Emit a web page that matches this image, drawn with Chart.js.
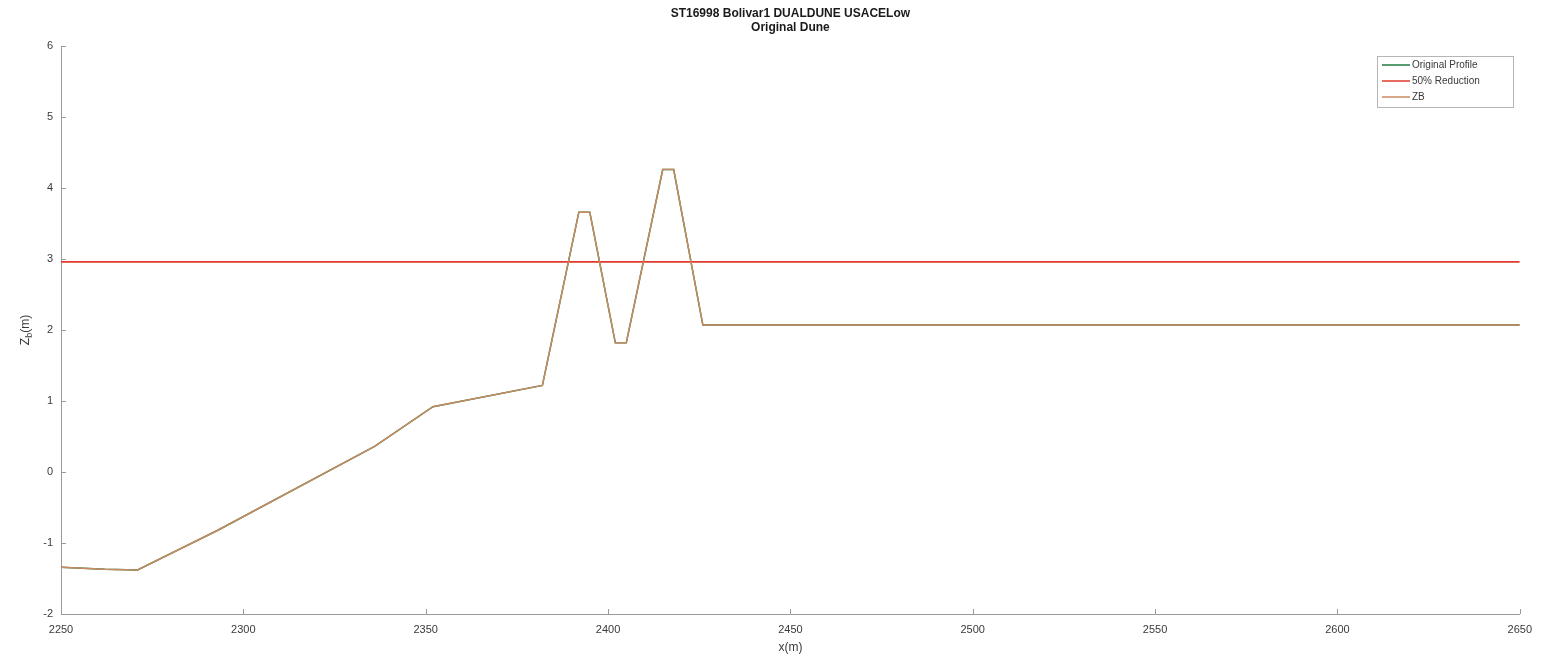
<!DOCTYPE html>
<html>
<head>
<meta charset="utf-8">
<title>ST16998 Bolivar1 DUALDUNE USACELow</title>
<script src="https://cdn.jsdelivr.net/npm/chart.js@4"></script>
<style>
  html, body { margin: 0; padding: 0; background: #fff; }
  #wrap { width: 1541px; height: 658px; position: relative; }
</style>
</head>
<body>
<div id="wrap"><canvas id="c" width="1541" height="658"></canvas></div>
<script>
// Cross-shore profile (x in metres, bed elevation Zb in metres)
const profileX = [2250, 2262, 2271, 2293, 2336, 2352, 2382, 2392, 2395, 2402, 2405, 2415, 2418, 2426, 2650];
const profileZ = [-1.34, -1.37, -1.38, -0.82, 0.36, 0.92, 1.22, 3.66, 3.66, 1.82, 1.82, 4.26, 4.26, 2.07, 2.07];
// ZB follows the original profile for this run
const zbX = profileX.slice();
const zbZ = profileZ.slice();
// 50% reduction elevation level
const reductionX = [2250, 2650];
const reductionZ = [2.96, 2.96];

const titleLines = ['ST16998 Bolivar1 DUALDUNE USACELow', 'Original Dune'];
const seriesNames = ['Original Profile', '50% Reduction', 'ZB'];
const xTicks = [2250, 2300, 2350, 2400, 2450, 2500, 2550, 2600, 2650];
const yTicks = [-2, -1, 0, 1, 2, 3, 4, 5, 6];

const COLORS = { original: '#1f7a3f', reduction: '#e2392b', zb: '#c98a62' };
const AXIS = '#9a9a9a';
const TEXT = '#3a3a3a';
const FONT = '"Liberation Sans", Arial, sans-serif';

const toPts = (xs, ys) => xs.map((x, i) => ({ x: x, y: ys[i] }));

const decor = {
  id: 'decor',
  afterDraw(chart) {
    const ctx = chart.ctx;
    const a = chart.chartArea;
    const xs = chart.scales.x, ys = chart.scales.y;
    ctx.save();
    // inward tick marks
    ctx.strokeStyle = AXIS;
    ctx.lineWidth = 1;
    ctx.beginPath();
    xTicks.forEach(v => {
      const px = Math.round(xs.getPixelForValue(v)) + 0.5;
      ctx.moveTo(px, a.bottom); ctx.lineTo(px, a.bottom - 5);
    });
    yTicks.forEach(v => {
      const py = Math.round(ys.getPixelForValue(v)) + 0.5;
      ctx.moveTo(a.left, py); ctx.lineTo(a.left + 5, py);
    });
    ctx.stroke();

    // title
    ctx.fillStyle = '#1a1a1a';
    ctx.font = 'bold 12px ' + FONT;
    ctx.textAlign = 'center';
    ctx.textBaseline = 'middle';
    const cx = (a.left + a.right) / 2;
    ctx.fillText(titleLines[0], cx, 14);
    ctx.fillText(titleLines[1], cx, 28);

    // x axis title
    ctx.fillStyle = TEXT;
    ctx.font = '12px ' + FONT;
    ctx.fillText('x(m)', cx, 648);

    // y axis title with subscript
    ctx.save();
    ctx.translate(26, (a.top + a.bottom) / 2);
    ctx.rotate(-Math.PI / 2);
    ctx.textAlign = 'left';
    ctx.textBaseline = 'middle';
    ctx.font = '12px ' + FONT;
    const wZ = ctx.measureText('Z').width;
    ctx.font = '9px ' + FONT;
    const wb = ctx.measureText('b').width;
    ctx.font = '12px ' + FONT;
    const wm = ctx.measureText('(m)').width;
    let sx = -(wZ + wb + wm) / 2;
    ctx.fillText('Z', sx, 0); sx += wZ;
    ctx.font = '9px ' + FONT;
    ctx.fillText('b', sx, 4); sx += wb;
    ctx.font = '12px ' + FONT;
    ctx.fillText('(m)', sx, 0);
    ctx.restore();

    // legend
    const lx = 1377, ly = 56, lw = 136, lh = 51;
    ctx.fillStyle = '#fff';
    ctx.fillRect(lx, ly, lw, lh);
    ctx.strokeStyle = '#b5b5b5';
    ctx.strokeRect(lx + 0.5, ly + 0.5, lw, lh);
    const cols = [COLORS.original, COLORS.reduction, COLORS.zb];
    ctx.font = '10px ' + FONT;
    ctx.textAlign = 'left';
    ctx.textBaseline = 'middle';
    seriesNames.forEach((name, i) => {
      const yy = ly + 9 + i * 16;
      ctx.strokeStyle = cols[i];
      ctx.lineWidth = 1.5;
      ctx.beginPath();
      ctx.moveTo(lx + 5, yy); ctx.lineTo(lx + 33, yy);
      ctx.stroke();
      ctx.fillStyle = TEXT;
      ctx.fillText(name, lx + 35, yy);
    });
    ctx.restore();
  }
};

new Chart(document.getElementById('c'), {
  type: 'line',
  data: {
    datasets: [
      { label: seriesNames[2], data: toPts(zbX, zbZ), borderColor: COLORS.zb, borderWidth: 1.5, order: 0 },
      { label: seriesNames[1], data: toPts(reductionX, reductionZ), borderColor: COLORS.reduction, borderWidth: 1.6, order: 1 },
      { label: seriesNames[0], data: toPts(profileX, profileZ), borderColor: COLORS.original, borderWidth: 1.5, order: 2 }
    ]
  },
  options: {
    responsive: false,
    animation: false,
    elements: { point: { radius: 0 }, line: { tension: 0 } },
    layout: { padding: { top: 46, right: 21, left: 0, bottom: 0 } },
    plugins: { legend: { display: false }, title: { display: false }, tooltip: { enabled: false } },
    scales: {
      x: {
        type: 'linear', min: 2250, max: 2650,
        afterFit(s) { s.height = 44; },
        afterBuildTicks(s) { s.ticks = xTicks.map(v => ({ value: v })); },
        grid: { display: false, drawTicks: false },
        border: { display: true, color: AXIS, width: 1 },
        ticks: { padding: 9, color: TEXT, font: { family: FONT, size: 11 }, maxRotation: 0, autoSkip: false,
                 callback: v => String(v) }
      },
      y: {
        type: 'linear', min: -2, max: 6,
        afterFit(s) { s.width = 61; },
        afterBuildTicks(s) { s.ticks = yTicks.map(v => ({ value: v })); },
        grid: { display: false, drawTicks: false },
        border: { display: true, color: AXIS, width: 1 },
        ticks: { padding: 8, color: TEXT, font: { family: FONT, size: 11 }, autoSkip: false,
                 callback: v => String(v) }
      }
    }
  },
  plugins: [decor]
});
</script>
</body>
</html>
